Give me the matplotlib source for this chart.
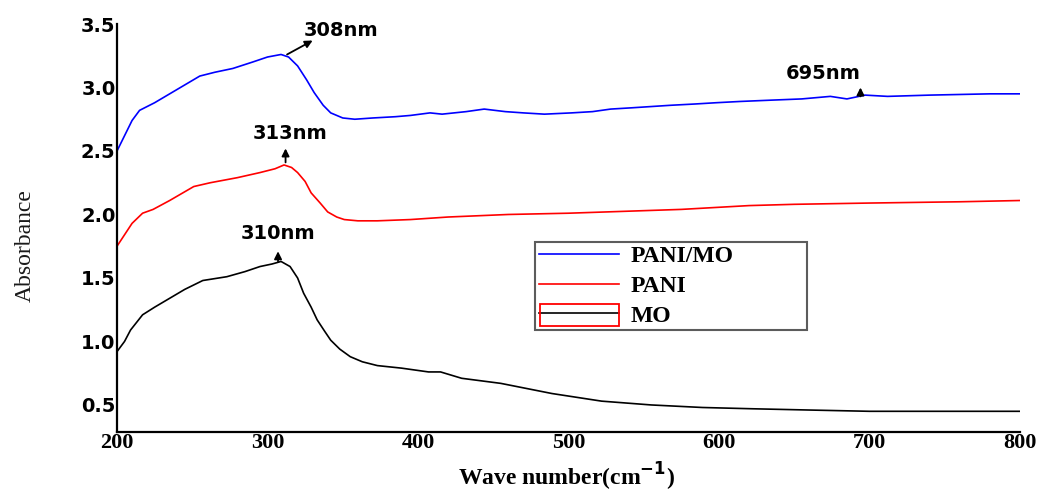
import numpy as np
import matplotlib
matplotlib.use('Agg')
import matplotlib.pyplot as plt
from matplotlib.patches import Rectangle

# wavelength points
wl_blue = [200, 205, 210, 215, 225, 235, 245, 255, 265, 277, 290, 300, 309, 314, 320, 326, 331, 337,
           342, 350, 358, 370, 385, 395, 408, 416, 432, 444, 458, 470, 484, 502, 516, 528, 542, 568,
           584, 598, 614, 634, 655, 674, 685, 697, 712, 740, 780, 800]
abs_pani_mo = [2.50, 2.62, 2.74, 2.82, 2.88, 2.95, 3.02, 3.09, 3.12, 3.15, 3.20, 3.24, 3.26, 3.24, 3.17,
               3.06, 2.96, 2.86, 2.80, 2.76, 2.75, 2.76, 2.77, 2.78, 2.80, 2.79, 2.81, 2.83, 2.81, 2.80,
               2.79, 2.80, 2.81, 2.83, 2.84, 2.86, 2.87, 2.88, 2.89, 2.90, 2.91, 2.93, 2.91, 2.94, 2.93,
               2.94, 2.95, 2.95]

wl_red = [200, 205, 210, 217, 224, 235, 251, 262, 280, 295, 305, 311, 316, 320, 325, 329, 335, 340,
          346, 351, 360, 373, 395, 420, 460, 500, 525, 575, 620, 650, 700, 760, 800]
abs_pani = [1.75, 1.84, 1.93, 2.01, 2.04, 2.11, 2.22, 2.25, 2.29, 2.33, 2.36, 2.39, 2.37, 2.33, 2.26,
            2.17, 2.09, 2.02, 1.98, 1.96, 1.95, 1.95, 1.96, 1.98, 2.00, 2.01, 2.02, 2.04, 2.07, 2.08,
            2.09, 2.10, 2.11]

wl_black = [200, 205, 209, 217, 225, 235, 245, 257, 273, 285, 295, 303, 309, 315, 320, 324, 329, 333,
            338, 342, 348, 355, 363, 373, 389, 407, 415, 429, 455, 489, 522, 555, 589, 622, 660, 700,
            750, 800]
abs_mo = [0.92, 1.00, 1.09, 1.21, 1.27, 1.34, 1.41, 1.48, 1.51, 1.55, 1.59, 1.61, 1.63, 1.59, 1.50,
          1.38, 1.27, 1.17, 1.08, 1.01, 0.94, 0.88, 0.84, 0.81, 0.79, 0.76, 0.76, 0.71, 0.67, 0.59,
          0.53, 0.50, 0.48, 0.47, 0.46, 0.45, 0.45, 0.45]

# peak labels: text, text pos, arrow tail, arrow head
peak_text = ['308nm', '313nm', '310nm', '695nm']
peak_text_xy = [(349, 3.45), (315, 2.64), (307, 1.85), (669, 3.11)]
peak_tail = [(313, 3.26), (312, 2.41), (307, 1.63), (694, 2.93)]
peak_head = [(330, 3.37), (312, 2.52), (307, 1.71), (694, 3.00)]

fig = plt.figure(figsize=(10.48, 4.94), dpi=100)
ax = fig.add_axes([117/1048, 1-432/494, 903/1048, 408/494])

ax.plot(wl_blue, abs_pani_mo, color='#0000ff', lw=1.2, label='PANI/MO')
ax.plot(wl_red, abs_pani, color='#ff0000', lw=1.2, label='PANI')
ax.plot(wl_black, abs_mo, color='black', lw=1.2, label='MO')

for t, txy, tail, head in zip(peak_text, peak_text_xy, peak_tail, peak_head):
    ax.text(txy[0], txy[1], t, ha='center', va='center', fontsize=14, fontweight='bold',
            family='DejaVu Sans')
    ax.annotate('', xy=head, xytext=tail,
                arrowprops=dict(arrowstyle='-|>', color='black', lw=1.3, mutation_scale=11,
                                shrinkA=0, shrinkB=0))

ax.set_xlim(200, 800)
ax.set_ylim(0.287, 3.5)
ax.set_xticks([200, 300, 400, 500, 600, 700, 800])
ax.set_yticks([0.5, 1.0, 1.5, 2.0, 2.5, 3.0, 3.5])
ax.set_yticklabels(['0.5', '1.0', '1.5', '2.0', '2.5', '3.0', '3.5'])
for lab in ax.get_yticklabels():
    lab.set_fontweight('bold')
    lab.set_fontsize(14)
    lab.set_family('DejaVu Sans')
for lab in ax.get_xticklabels():
    lab.set_fontweight('bold')
    lab.set_fontsize(16)
    lab.set_family('Liberation Serif')
ax.tick_params(length=0, pad=1)
ax.spines['top'].set_visible(False)
ax.spines['right'].set_visible(False)
ax.spines['left'].set_linewidth(1.6)
ax.spines['bottom'].set_linewidth(1.6)

# legend box spans x 535..807 px, top at 242 px in the original
leg_x0 = (535-117)/903
leg_w = (807-535)/903
leg_top = (432-242)/408
leg = ax.legend(loc='upper left', bbox_to_anchor=(leg_x0, leg_top - 0.3, leg_w, 0.3),
                mode='expand', frameon=True, fancybox=False, edgecolor='#333333',
                handlelength=3.4, handletextpad=0.5, borderpad=0.15, labelspacing=0.35,
                borderaxespad=0,
                prop={'family': 'Liberation Serif', 'weight': 'bold', 'size': 17})
leg.get_frame().set_linewidth(1.5)

# red box drawn round the MO legend handle in the original
fig.patches.append(Rectangle((540/1048, 1-326/494), 79/1048, 22/494, transform=fig.transFigure,
                             fill=False, edgecolor='#ff0000', lw=1.3))

fig.text(25/1048, 1-246/494, 'Absorbance', rotation=90, ha='center', va='center',
         fontsize=17, family='Liberation Serif', color='#1a1a1a')
fig.text(566/1048, 1-477/494, 'Wave number(cm$^{\\mathbf{-1}}$)', ha='center', va='center',
         fontsize=17, fontweight='bold', family='Liberation Serif')

fig.savefig('out.png', dpi=100)
